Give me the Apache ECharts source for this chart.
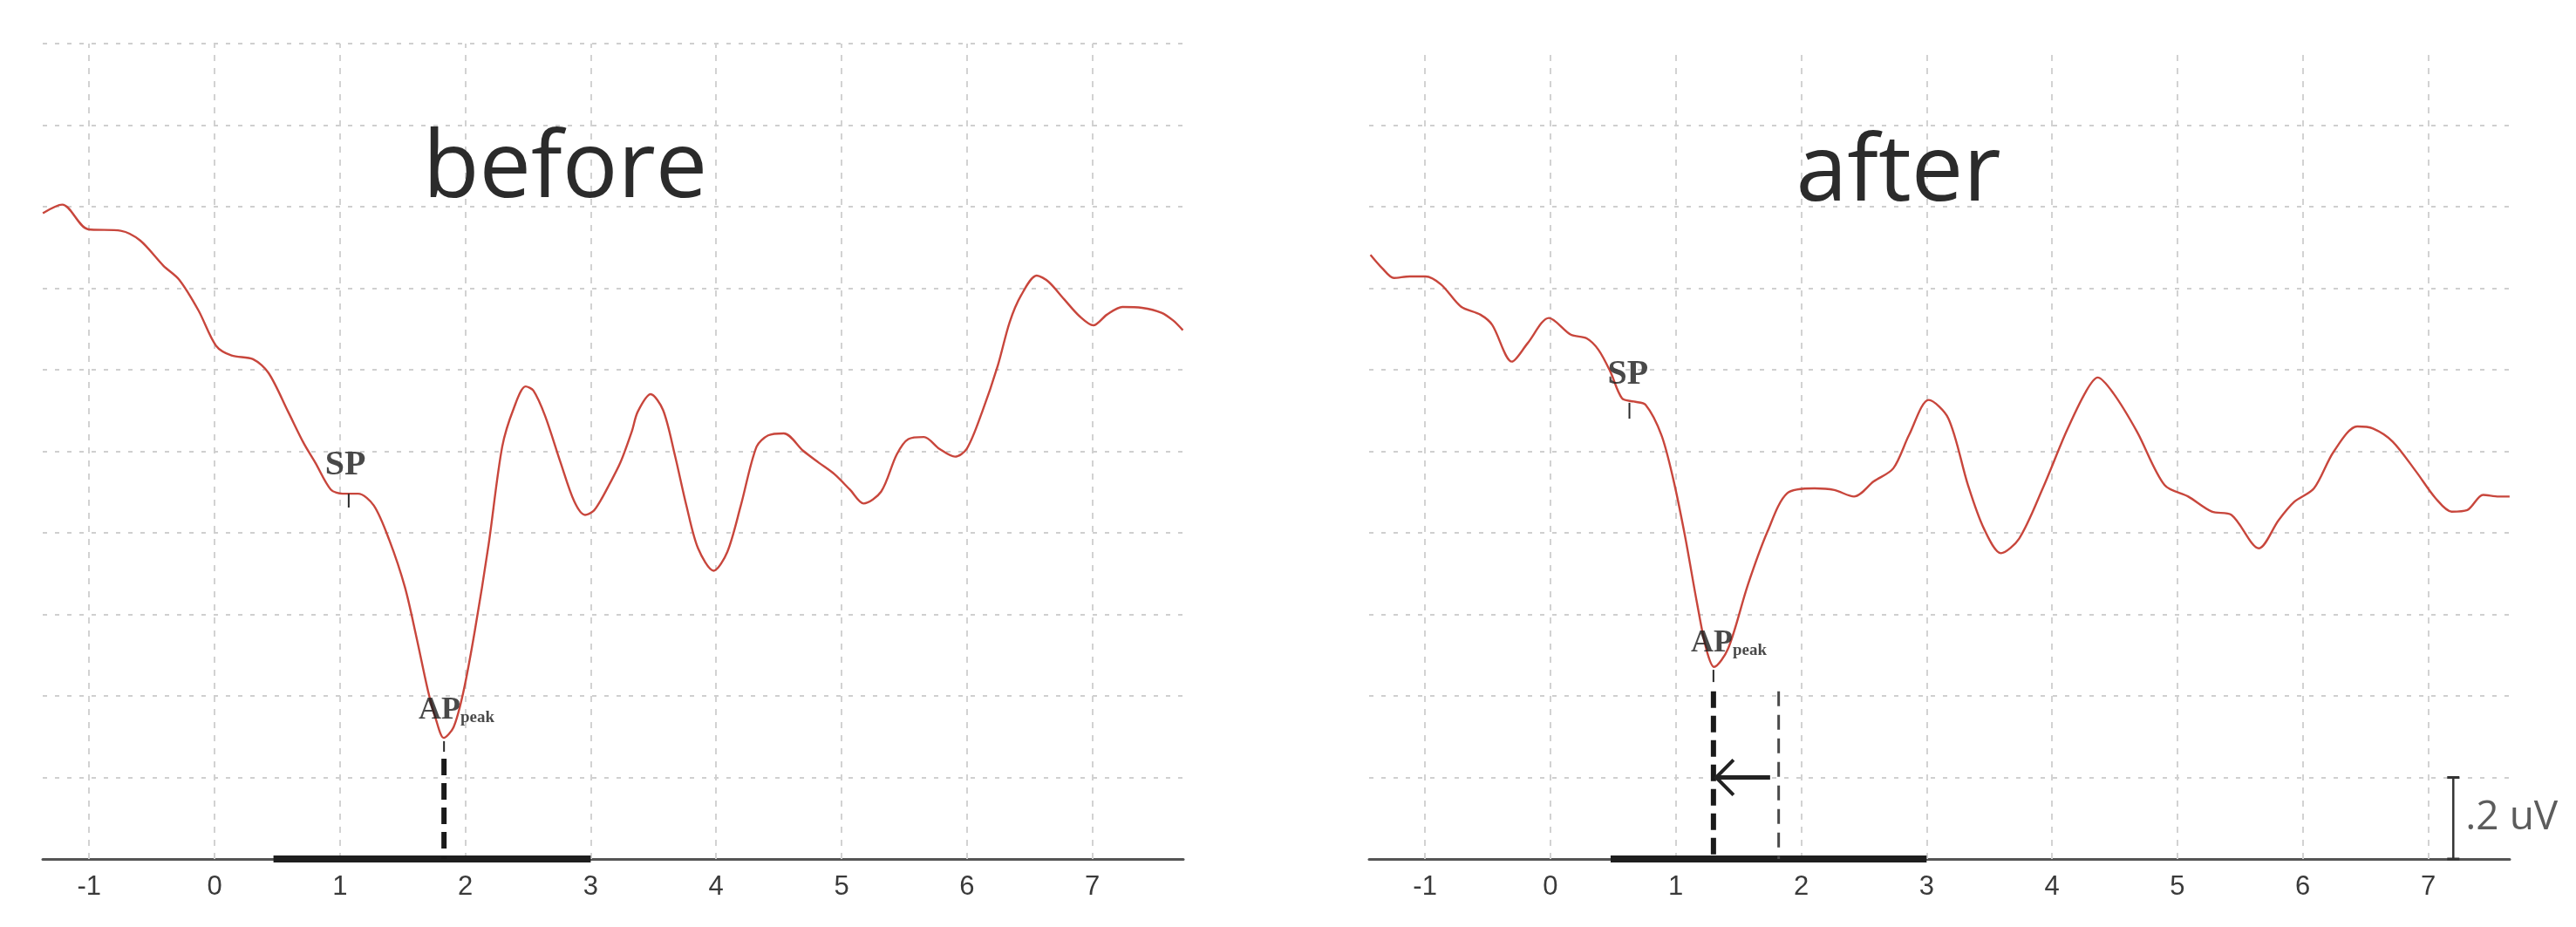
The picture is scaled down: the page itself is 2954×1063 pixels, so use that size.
<!DOCTYPE html>
<html>
<head>
<meta charset="utf-8">
<script src="https://cdn.jsdelivr.net/npm/echarts@6/dist/echarts.min.js"></script>
<style>
html,body{margin:0;padding:0;background:#fff;}
#chart{width:2954px;height:1063px;}
</style>
</head>
<body>
<div id="chart"></div>
<script>
// ---------- DATA ----------
const xTicks = [-1, 0, 1, 2, 3, 4, 5, 6, 7];
const panelTitles = ['before', 'after'];
const gridValuesBefore = [0.2, 0.4, 0.6, 0.8, 1.0, 1.2, 1.4, 1.6, 1.8, 2.0];
const gridValuesAfter = [0.2, 0.4, 0.6, 0.8, 1.0, 1.2, 1.4, 1.6, 1.8];

const beforeTime = [-1.369,-1.214,-1.012,-0.748,-0.593,-0.407,-0.282,-0.127,0.012,0.136,0.307,0.431,0.587,0.711,0.804,0.928,1.022,1.145,1.270,1.394,1.518,1.611,1.705,1.766,1.828,1.906,1.984,2.077,2.186,2.294,2.387,2.481,2.543,2.636,2.760,2.869,2.955,3.020,3.080,3.142,3.236,3.328,3.375,3.478,3.577,3.670,3.763,3.856,3.981,4.089,4.197,4.322,4.415,4.540,4.695,4.819,4.943,5.067,5.176,5.316,5.440,5.533,5.657,5.781,5.905,5.999,6.122,6.247,6.340,6.433,6.557,6.650,6.775,6.899,7.008,7.116,7.240,7.396,7.551,7.644,7.722];
const beforeAmp = [1.584,1.605,1.545,1.541,1.517,1.455,1.421,1.345,1.259,1.235,1.226,1.192,1.097,1.020,0.972,0.906,0.896,0.896,0.867,0.782,0.667,0.543,0.409,0.342,0.297,0.323,0.409,0.562,0.772,1.011,1.106,1.159,1.149,1.087,0.972,0.877,0.844,0.853,0.880,0.915,0.972,1.049,1.097,1.140,1.101,0.992,0.867,0.762,0.707,0.753,0.867,1.011,1.039,1.044,1.001,0.972,0.944,0.906,0.872,0.901,0.992,1.030,1.035,1.006,0.987,1.006,1.097,1.211,1.316,1.383,1.431,1.416,1.373,1.331,1.309,1.335,1.354,1.352,1.340,1.321,1.297];

const afterTime = [-1.435,-1.341,-1.248,-1.122,-0.997,-0.871,-0.714,-0.558,-0.464,-0.307,-0.182,-0.012,0.163,0.289,0.383,0.477,0.571,0.665,0.759,0.885,0.978,1.072,1.167,1.242,1.305,1.417,1.574,1.731,1.888,2.107,2.264,2.421,2.578,2.734,2.860,3.017,3.173,3.330,3.456,3.593,3.738,3.926,4.114,4.271,4.364,4.490,4.678,4.898,5.086,5.274,5.431,5.650,5.807,5.932,6.089,6.246,6.434,6.559,6.716,6.904,7.061,7.187,7.312,7.438,7.563,7.649];
const afterAmp = [1.482,1.449,1.425,1.429,1.429,1.409,1.355,1.335,1.310,1.220,1.265,1.327,1.286,1.277,1.249,1.196,1.130,1.122,1.114,1.040,0.934,0.794,0.631,0.516,0.471,0.516,0.672,0.803,0.897,0.909,0.905,0.889,0.926,0.958,1.040,1.126,1.081,0.917,0.811,0.750,0.786,0.909,1.048,1.147,1.181,1.142,1.048,0.917,0.889,0.852,0.844,0.762,0.831,0.876,0.909,0.999,1.061,1.056,1.024,0.950,0.884,0.852,0.856,0.893,0.889,0.889];

// stimulus bar on the time axis [start, end]
const stimBefore = [0.47, 3.0];
const stimAfter = [0.48, 3.0];
// marker positions (time, amplitude at top, amplitude at bottom)
const spBefore = [1.07, 0.896, 0.862];
const apBefore = [1.83, 0.289, 0.263];
const apBeforeDrop = [1.83, 0.246];
const spAfter = [0.63, 1.119, 1.080];
const apAfter = [1.30, 0.464, 0.434];
const apAfterDrop = [1.30, 0.411];
const apPrevDrop = [1.82, 0.411];
const arrowShaft = [[1.752, 0.2], [1.33, 0.2]];
const arrowHead = [[1.46, 0.243], [1.321, 0.2], [1.46, 0.157]];
const scaleBar = [7.2, 0, 0.2];
const scaleLabel = '.2 uV';
// label anchors
const spLabelBefore = [1.043, 0.965];
const apLabelBefore = [1.627, 0.364];
const spLabelAfter = [0.619, 1.187];
const apLabelAfter = [1.12, 0.530];

// ---------- CHART ----------
const zip = (a, b) => a.map((v, i) => [v, b[i]]);
const chart = echarts.init(document.getElementById('chart'), null, {renderer: 'canvas'});

const gridLineStyle = {color: '#cfcfcf', width: 2, type: [5, 9]};
const vGridStyle = {color: '#d2d2d2', width: 2, type: [7, 8]};

function gridSeries(idx, yVals) {
  return {
    type: 'line', xAxisIndex: idx, yAxisIndex: idx, data: [], z: 1, silent: true,
    markLine: {
      z: 1, silent: true, symbol: 'none', animation: false, label: {show: false},
      data: xTicks.map(v => ({xAxis: v, lineStyle: vGridStyle}))
        .concat(yVals.map(v => ({yAxis: v, lineStyle: gridLineStyle})))
    }
  };
}
function seg(idx, pts, style, z) {
  return {
    type: 'line', xAxisIndex: idx, yAxisIndex: idx, data: pts, showSymbol: false,
    symbol: 'none', silent: true, z: z || 6, lineStyle: style
  };
}
function textSeries(idx, pt, formatter, pos, labelStyle) {
  return {
    type: 'scatter', xAxisIndex: idx, yAxisIndex: idx, data: [pt], symbolSize: 0,
    silent: true, z: 7,
    label: Object.assign({show: true, position: pos, formatter: formatter, distance: 0}, labelStyle)
  };
}
const spStyle = {fontFamily: 'Liberation Serif', fontWeight: 'bold', fontSize: 40, color: '#1c1c1c'};
const apRich = {
  rich: {
    a: {fontFamily: 'Liberation Serif', fontWeight: 'bold', fontSize: 36, lineHeight: 36, color: '#1c1c1c'},
    b: {fontFamily: 'Liberation Serif', fontWeight: 'bold', fontSize: 19, lineHeight: 19, verticalAlign: 'bottom', color: '#1c1c1c'}
  }
};
const curveStyle = {color: '#c8463c', width: 2.4};
const tickStyle = {color: '#2a2a2a', width: 2};

function xAxisDef(idx, min, max) {
  return {
    type: 'value', gridIndex: idx, min: min, max: max,
    axisLine: {show: true, onZero: false, lineStyle: {color: '#555555', width: 3}},
    axisTick: {show: false},
    splitLine: {show: false},
    axisLabel: {
      show: true, customValues: xTicks, fontSize: 31, color: '#3a3a3a',
      fontFamily: 'Liberation Sans', margin: 17
    }
  };
}
function yAxisDef(idx, max) {
  return {
    type: 'value', gridIndex: idx, min: 0, max: max,
    axisLine: {show: false}, axisTick: {show: false}, axisLabel: {show: false}, splitLine: {show: false}
  };
}

const option = {
  animation: false,
  backgroundColor: '#ffffff',
  title: [
    {text: panelTitles[0], left: 648, top: 143, textAlign: 'center', padding: 0,
     textStyle: {fontFamily: 'Open Sans', fontWeight: 'normal', fontSize: 106, lineHeight: 106, color: '#2b2b2b'}},
    {text: panelTitles[1], left: 2177, top: 147, textAlign: 'center', padding: 0,
     textStyle: {fontFamily: 'Open Sans', fontWeight: 'normal', fontSize: 106, lineHeight: 106, color: '#2b2b2b'}}
  ],
  grid: [
    {left: 49, top: 50, width: 1308, height: 935},
    {left: 1570, top: 60, width: 1308, height: 925}
  ],
  xAxis: [xAxisDef(0, -1.37, 7.726), xAxisDef(1, -1.446, 7.65)],
  yAxis: [yAxisDef(0, 2.0), yAxisDef(1, 925 / 93.5 * 0.2)],
  series: [
    gridSeries(0, gridValuesBefore),
    gridSeries(1, gridValuesAfter),
    // curves
    {type: 'line', xAxisIndex: 0, yAxisIndex: 0, data: zip(beforeTime, beforeAmp), smooth: 0.3,
     showSymbol: false, symbol: 'none', lineStyle: curveStyle, z: 3, silent: true},
    {type: 'line', xAxisIndex: 1, yAxisIndex: 1, data: zip(afterTime, afterAmp), smooth: 0.3,
     showSymbol: false, symbol: 'none', lineStyle: curveStyle, z: 3, silent: true},
    // stimulus bars
    seg(0, [[stimBefore[0], 0], [stimBefore[1], 0]], {color: '#1e1e1e', width: 8}, 5),
    seg(1, [[stimAfter[0], 0], [stimAfter[1], 0]], {color: '#1e1e1e', width: 8}, 5),
    // marker ticks
    seg(0, [[spBefore[0], spBefore[1]], [spBefore[0], spBefore[2]]], tickStyle),
    seg(0, [[apBefore[0], apBefore[1]], [apBefore[0], apBefore[2]]], tickStyle),
    seg(1, [[spAfter[0], spAfter[1]], [spAfter[0], spAfter[2]]], tickStyle),
    seg(1, [[apAfter[0], apAfter[1]], [apAfter[0], apAfter[2]]], tickStyle),
    // AP latency drop lines
    seg(0, [[apBeforeDrop[0], apBeforeDrop[1]], [apBeforeDrop[0], 0]], {color: '#1a1a1a', width: 6, type: [19, 9]}),
    seg(1, [[apAfterDrop[0], apAfterDrop[1]], [apAfterDrop[0], 0]], {color: '#1a1a1a', width: 6, type: [19, 9]}),
    seg(1, [[apPrevDrop[0], apPrevDrop[1]], [apPrevDrop[0], 0]], {color: '#4a4a4a', width: 3, type: [17, 10]}),
    // arrow
    seg(1, arrowShaft, {color: '#222', width: 5}),
    seg(1, arrowHead, {color: '#222', width: 4, join: 'miter'}),
    // scale bar
    {type: 'line', xAxisIndex: 1, yAxisIndex: 1, data: [[scaleBar[0], scaleBar[1]], [scaleBar[0], scaleBar[2]]],
     symbol: 'rect', symbolSize: [14, 3], showSymbol: true, itemStyle: {color: '#333'},
     lineStyle: {color: '#333', width: 2.5}, z: 6, silent: true},
    textSeries(1, [scaleBar[0], (scaleBar[1] + scaleBar[2]) / 2], scaleLabel, 'right',
      {distance: 14, fontFamily: 'Open Sans', fontSize: 46, color: '#333'}),
    // labels
    textSeries(0, spLabelBefore, 'SP', 'inside', spStyle),
    textSeries(1, spLabelAfter, 'SP', 'inside', spStyle),
    textSeries(0, apLabelBefore, '{a|AP}{b|peak}', 'right', apRich),
    textSeries(1, apLabelAfter, '{a|AP}{b|peak}', 'right', apRich)
  ]
};
chart.setOption(option);
</script>
</body>
</html>
